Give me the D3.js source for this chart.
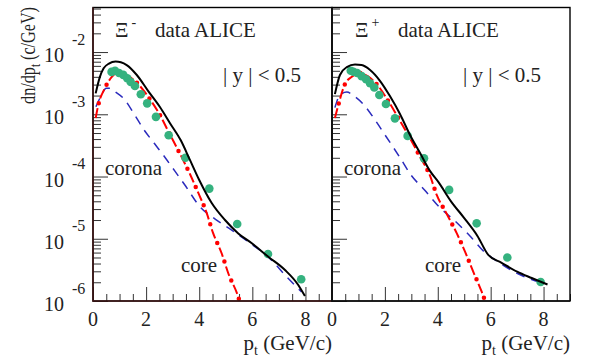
<!DOCTYPE html>
<html>
<head>
<meta charset="utf-8">
<script src="https://cdn.jsdelivr.net/npm/d3@7"></script>
<style>
  body { margin: 0; background: #fff; }
  svg { display: block; }
  text { font-family: "Liberation Serif", "Times New Roman", serif; fill: #222; }
</style>
</head>
<body>
<svg id="chart" width="589" height="358"></svg>
<script>
// Xi- : ALICE data points
const xiMinusDataPt    = [0.70, 0.83, 0.98, 1.14, 1.29, 1.42, 1.58, 1.80, 2.04, 2.37, 2.85, 3.48, 4.38, 5.43, 6.59, 7.84];
const xiMinusDataYield = [4.8e-3, 5.0e-3, 4.6e-3, 4.3e-3, 3.8e-3, 3.3e-3, 2.85e-3, 2.1e-3, 1.5e-3, 9.1e-4, 4.6e-4, 2.0e-4, 6.4e-5, 1.73e-5, 5.7e-6, 2.23e-6];
// Xi- : model, full (core + corona)
const xiMinusFullPt = [0.10, 0.26, 0.40, 0.60, 0.85, 1.05, 1.27, 1.65, 2.08, 2.52, 2.90, 3.30, 3.65, 4.00, 4.47, 4.97, 5.47, 5.98, 6.60, 7.23, 7.73, 7.98];
const xiMinusFull   = [2.17e-3, 4.0e-3, 5.47e-3, 6.53e-3, 7.03e-3, 6.84e-3, 6.18e-3, 4.28e-3, 2.36e-3, 1.31e-3, 7.2e-4, 3.85e-4, 1.85e-4, 8.8e-5, 3.75e-5, 2.0e-5, 1.22e-5, 8.45e-6, 5.15e-6, 3.15e-6, 1.81e-6, 1.2e-6];
// Xi- : model, core
const xiMinusCorePt = [0.10, 0.20, 0.45, 0.70, 0.95, 1.20, 1.70, 2.10, 2.50, 2.85, 3.30, 3.65, 3.97, 4.28, 4.52, 4.84, 5.09, 5.47, 5.60];
const xiMinusCore   = [8.7e-4, 1.41e-3, 2.64e-3, 3.96e-3, 4.77e-3, 4.43e-3, 3.06e-3, 1.86e-3, 1.01e-3, 5.2e-4, 2.21e-4, 1.1e-4, 5.4e-5, 2.6e-5, 1.24e-5, 5.9e-6, 2.82e-6, 1.16e-6, 7.5e-7];
// Xi- : model, corona
const xiMinusCoronaPt = [0.11, 0.30, 0.50, 0.65, 0.83, 1.17, 1.55, 1.90, 2.30, 2.70, 3.00, 3.46, 4.03, 4.60, 5.10, 5.90, 6.60, 7.30, 7.85];
const xiMinusCorona   = [1.32e-3, 1.96e-3, 2.61e-3, 2.61e-3, 2.3e-3, 1.76e-3, 1.01e-3, 5.8e-4, 3.45e-4, 2.06e-4, 1.37e-4, 7.3e-5, 3.27e-5, 2.07e-5, 1.49e-5, 8.6e-6, 5.1e-6, 2.43e-6, 1.4e-6];

// Xi+ : ALICE data points
const xiPlusDataPt    = [0.71, 0.81, 0.95, 1.12, 1.29, 1.44, 1.60, 1.79, 2.04, 2.38, 2.86, 3.48, 4.43, 5.47, 6.63, 7.89];
const xiPlusDataYield = [5.0e-3, 4.83e-3, 4.6e-3, 4.1e-3, 3.65e-3, 3.15e-3, 2.7e-3, 2.04e-3, 1.46e-3, 8.6e-4, 4.5e-4, 1.96e-4, 6.1e-5, 1.77e-5, 5.0e-6, 2.02e-6];
// Xi+ : model, full
const xiPlusFullPt = [0.11, 0.30, 0.56, 0.87, 1.12, 1.44, 1.82, 2.19, 2.57, 2.95, 3.33, 3.71, 4.02, 4.50, 5.00, 5.50, 5.91, 6.40, 7.00, 7.55, 8.15];
const xiPlusFull   = [2.11e-3, 4.28e-3, 5.74e-3, 6.3e-3, 6.18e-3, 5.14e-3, 3.42e-3, 1.96e-3, 1.01e-3, 4.65e-4, 2.39e-4, 1.22e-4, 8.2e-5, 4.0e-5, 2.15e-5, 1.11e-5, 5.5e-6, 4.15e-6, 2.96e-6, 2.34e-6, 1.84e-6];
// Xi+ : model, core
const xiPlusCorePt = [0.11, 0.24, 0.49, 0.75, 1.06, 1.35, 1.72, 2.13, 2.51, 2.95, 3.33, 3.71, 3.96, 4.34, 4.72, 5.03, 5.34, 5.66, 5.85];
const xiPlusCore   = [8.7e-4, 1.41e-3, 3.06e-3, 4.0e-3, 4.6e-3, 4.11e-3, 2.95e-3, 1.63e-3, 8.7e-4, 4.11e-4, 2.08e-4, 1.02e-4, 5.05e-5, 2.5e-5, 1.22e-5, 6.2e-6, 2.96e-6, 1.41e-6, 8.5e-7];
// Xi+ : model, corona
const xiPlusCoronaPt = [0.11, 0.30, 0.56, 0.81, 1.18, 1.63, 2.05, 2.55, 3.00, 3.50, 4.02, 4.65, 5.20, 5.75, 6.35, 7.00, 7.65, 7.96];
const xiPlusCorona   = [1.28e-3, 2.04e-3, 2.28e-3, 2.0e-3, 1.46e-3, 8.1e-4, 4.36e-4, 2.08e-4, 1.04e-4, 6.07e-5, 3.36e-5, 1.93e-5, 1.13e-5, 6.2e-6, 4.07e-6, 2.79e-6, 2.13e-6, 1.92e-6];

// Axis ticks and labels
const xTickLabels = [0, 2, 4, 6, 8];
const yTickExponents = [-2, -3, -4, -5, -6];
const xDomain = [0, 9];
const yDomain = [1e-6, 0.052];

const svg = d3.select("#chart");
const plotTop = 7.5, plotBottom = 301;

const y = d3.scaleLog().domain(yDomain).range([plotBottom, plotTop]);

// Minor log ticks (2..9 per decade) inside the visible range
const yMinorTicks = [];
for (let e = -6; e <= -2; e++) {
  for (let m = 2; m <= 9; m++) {
    const v = m * Math.pow(10, e);
    if (v <= yDomain[1]) yMinorTicks.push(v);
  }
}
const yMajorTicks = yTickExponents.map(e => Math.pow(10, e));

const panels = [
  {
    id: "minus", left: 93, right: 332, frameColor: "#3e1616",
    charge: "-", particleX: 22, aliceX: 62, rapX: 130, coronaX: 12, coreX: 88,
    dataPt: xiMinusDataPt, dataY: xiMinusDataYield,
    fullPt: xiMinusFullPt, full: xiMinusFull,
    corePt: xiMinusCorePt, core: xiMinusCore,
    coronaPt: xiMinusCoronaPt, corona: xiMinusCorona
  },
  {
    id: "plus", left: 332, right: 570, frameColor: "#111",
    charge: "+", particleX: 23, aliceX: 66, rapX: 131, coronaX: 12, coreX: 93,
    dataPt: xiPlusDataPt, dataY: xiPlusDataYield,
    fullPt: xiPlusFullPt, full: xiPlusFull,
    corePt: xiPlusCorePt, core: xiPlusCore,
    coronaPt: xiPlusCoronaPt, corona: xiPlusCorona
  }
];

const defs = svg.append("defs");

panels.forEach(p => {
  const x = d3.scaleLinear().domain(xDomain).range([p.left, p.right]);
  const g = svg.append("g").attr("class", "panel-" + p.id);

  defs.append("clipPath").attr("id", "clip-" + p.id)
    .append("rect")
    .attr("x", p.left).attr("y", plotTop)
    .attr("width", p.right - p.left).attr("height", plotBottom - plotTop);

  // x axis ticks (pointing up into the frame)
  const xMinor = d3.range(0, 9.001, 0.5).filter(v => v % 2 !== 0);
  g.append("g").attr("transform", `translate(0,${plotBottom})`)
    .call(d3.axisBottom(x).tickValues(xMinor).tickSizeInner(-7).tickSizeOuter(0).tickFormat(""))
    .call(a => a.select(".domain").remove())
    .call(a => a.selectAll("line").attr("stroke", "#333").attr("stroke-width", 1));
  g.append("g").attr("transform", `translate(0,${plotBottom})`)
    .call(d3.axisBottom(x).tickValues(xTickLabels).tickSizeInner(-14).tickSizeOuter(0).tickFormat(""))
    .call(a => a.select(".domain").remove())
    .call(a => a.selectAll("line").attr("stroke", "#333").attr("stroke-width", 1));

  // x tick labels
  g.selectAll("text.xlab").data(xTickLabels).join("text")
    .attr("class", "xlab")
    .attr("x", d => x(d)).attr("y", 326)
    .attr("text-anchor", "middle")
    .style("font-size", "20px")
    .text(d => d);

  // y axis ticks (pointing right into the frame)
  g.append("g").attr("transform", `translate(${p.left},0)`)
    .call(d3.axisLeft(y).tickValues(yMinorTicks).tickSizeInner(-8).tickSizeOuter(0).tickFormat(""))
    .call(a => a.select(".domain").remove())
    .call(a => a.selectAll("line").attr("stroke", "#333").attr("stroke-width", 1));
  g.append("g").attr("transform", `translate(${p.left},0)`)
    .call(d3.axisLeft(y).tickValues(yMajorTicks).tickSizeInner(-15).tickSizeOuter(0).tickFormat(""))
    .call(a => a.select(".domain").remove())
    .call(a => a.selectAll("line").attr("stroke", "#333").attr("stroke-width", 1));

  const line = d3.line()
    .x(d => x(d[0])).y(d => y(d[1]))
    .curve(d3.curveMonotoneX);

  const plot = g.append("g").attr("clip-path", `url(#clip-${p.id})`);

  // corona: blue dashed
  plot.append("path")
    .attr("d", line(d3.zip(p.coronaPt, p.corona)))
    .attr("fill", "none").attr("stroke", "#2b2bbd").attr("stroke-width", 1.5)
    .attr("stroke-dasharray", "9,7");

  // core: red dash-dot
  const coreD = line(d3.zip(p.corePt, p.core));
  plot.append("path")
    .attr("d", coreD)
    .attr("fill", "none").attr("stroke", "#ff0000").attr("stroke-width", 2)
    .attr("stroke-dasharray", "10,10");
  plot.append("path")
    .attr("d", coreD)
    .attr("fill", "none").attr("stroke", "#ff0000").attr("stroke-width", 4.5)
    .attr("stroke-linecap", "round")
    .attr("stroke-dasharray", "0,20").attr("stroke-dashoffset", -15);

  // data points
  plot.selectAll("circle.data").data(d3.zip(p.dataPt, p.dataY)).join("circle")
    .attr("class", "data")
    .attr("cx", d => x(d[0])).attr("cy", d => y(d[1]))
    .attr("r", 4.3).attr("fill", "#35b27f");

  // full: black solid
  plot.append("path")
    .attr("d", line(d3.zip(p.fullPt, p.full)))
    .attr("fill", "none").attr("stroke", "#000").attr("stroke-width", 2);

  // frame
  g.append("rect")
    .attr("x", p.left).attr("y", plotTop)
    .attr("width", p.right - p.left).attr("height", plotBottom - plotTop)
    .attr("fill", "none").attr("stroke", "#000").attr("stroke-width", 1.4);
  g.append("path")
    .attr("d", `M${p.left},${plotTop}V${plotBottom}H${p.right}`)
    .attr("fill", "none").attr("stroke", p.frameColor).attr("stroke-width", 1.6);

  // labels
  const particle = g.append("text")
    .attr("x", p.left + p.particleX).attr("y", 36.5)
    .style("font-size", "21px");
  particle.append("tspan").text("Ξ");
  particle.append("tspan").attr("dx", 3).attr("dy", -10).style("font-size", "14px").text(p.charge);

  g.append("text").attr("x", p.left + p.aliceX).attr("y", 36.5)
    .style("font-size", "21px").text("data ALICE");
  g.append("text").attr("x", p.left + p.rapX).attr("y", 82)
    .style("font-size", "21px").attr("xml:space", "preserve").text("| y | < 0.5");
  g.append("text").attr("x", p.left + p.coronaX).attr("y", 175)
    .style("font-size", "21px").text("corona");
  g.append("text").attr("x", p.left + p.coreX).attr("y", 271.5)
    .style("font-size", "21px").text("core");

  // x axis title
  const xt = g.append("text")
    .attr("x", p.right).attr("y", 350)
    .attr("text-anchor", "end")
    .style("font-size", "21px");
  xt.append("tspan").text("p");
  xt.append("tspan").attr("dy", 5).style("font-size", "14px").text("t");
  xt.append("tspan").attr("dy", -5).text(" (GeV/c)");
});

// y tick labels: 10 with exponent
const ylab = svg.append("g");
yTickExponents.forEach(e => {
  const ty = y(Math.pow(10, e));
  ylab.append("text")
    .attr("x", 64).attr("y", ty + 10)
    .attr("text-anchor", "end")
    .style("font-size", "20px").text("10");
  ylab.append("text")
    .attr("x", 72).attr("y", ty - 7.5)
    .style("font-size", "16px").text(String(e));
});

// y axis title, rotated
const yTitleG = svg.append("g").attr("transform", "translate(35,55.5) rotate(-90)");
const yTitle = yTitleG.append("text")
  .attr("text-anchor", "middle")
  .style("font-size", "22px");
yTitle.append("tspan").text("dn/dp");
yTitle.append("tspan").attr("dy", 5).style("font-size", "15px").text("t");
yTitle.append("tspan").attr("dy", -5).text(" (c/GeV)");
const w = yTitle.node().getComputedTextLength();
if (w > 0) yTitle.attr("transform", `scale(${97 / w},1)`);
</script>
</body>
</html>
